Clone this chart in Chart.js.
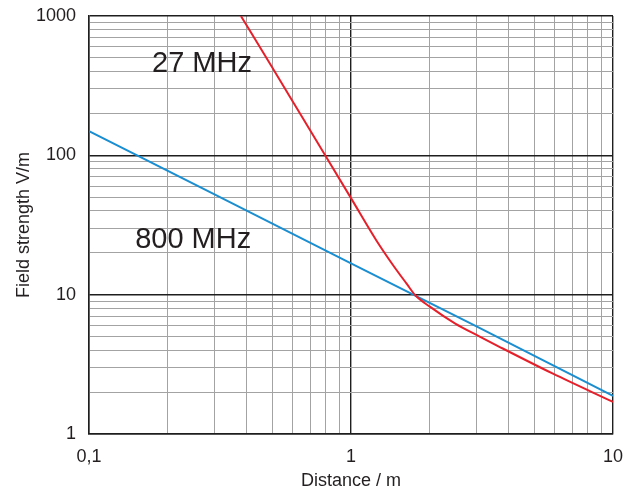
<!DOCTYPE html>
<html lang="en">
<head>
<meta charset="UTF-8">
<title>Field strength vs distance</title>
<script src="https://cdn.jsdelivr.net/npm/chart.js"></script>
<style>
  body { margin: 0; background: #ffffff; }
  canvas { display: block; }
</style>
</head>
<body>
<canvas id="fieldChart" width="627" height="492"></canvas>
<script>
// 27 MHz curve (distance in m, field in V/m)
const distance27 = [0.38, 0.5, 0.65, 0.8, 1, 1.25, 1.45, 1.63, 1.76, 2.0, 2.5, 3.1, 3.7, 5.9, 10];
const field27    = [1000, 428, 189, 99, 49.3, 24.5, 16.2, 12.0, 9.9, 8.2, 6.2, 5.0, 4.21, 2.71, 1.70];

// 800 MHz curve (straight line on log-log)
const distance800 = [0.1, 0.3, 1, 3, 10];
const field800    = [149, 52.6, 16.8, 5.94, 1.88];

// decade ticks and their labels
const xMajorTicks  = [0.1, 1, 10];
const xMajorLabels = ['0,1', '1', '10'];
const yMajorTicks  = [1, 10, 100, 1000];
const yMajorLabels = ['1', '10', '100', '1000'];

const FONT = '"Liberation Sans", Arial, sans-serif';

function isDecade(v) {
    const l = Math.log10(v);
    return Math.abs(l - Math.round(l)) < 1e-9;
}

// decades plus 2..9 subdivisions for the grid
function logTicks(majors) {
    const out = [];
    majors.forEach((m, i) => {
        out.push(m);
        if (i < majors.length - 1) {
            for (let k = 2; k <= 9; k++) out.push(+(m * k).toPrecision(6));
        }
    });
    return out;
}

function labelFor(majors, labels) {
    return (value) => {
        const i = majors.findIndex(m => Math.abs(m - value) < 1e-9);
        return i >= 0 ? labels[i] : '';
    };
}

// tick marks are invisible, they only push the labels away from the frame
function gridStyle(tickLen) {
    return {
        color: ctx => (ctx.tick && isDecade(ctx.tick.value)) ? '#1e1e1e' : '#a3a3a3',
        lineWidth: ctx => (ctx.tick && isDecade(ctx.tick.value)) ? 1.4 : 1,
        drawTicks: true,
        tickLength: tickLen,
        tickColor: 'rgba(0,0,0,0)'
    };
}

// "27 MHz" / "800 MHz" captions
const curveLabels = {
    id: 'curveLabels',
    afterDatasetsDraw(chart) {
        const { ctx, scales: { x, y } } = chart;
        ctx.save();
        ctx.font = '29px ' + FONT;
        ctx.fillStyle = '#231f20';
        ctx.textAlign = 'left';
        ctx.textBaseline = 'alphabetic';
        ctx.fillText('27 MHz', x.getPixelForValue(0.174), y.getPixelForValue(398));
        ctx.fillText('800 MHz', x.getPixelForValue(0.15), y.getPixelForValue(21.8));
        ctx.restore();
    }
};

Chart.defaults.font.family = FONT;
Chart.defaults.color = '#231f20';

new Chart(document.getElementById('fieldChart'), {
    type: 'line',
    data: {
        datasets: [
            {
                label: '27 MHz',
                data: distance27.map((d, i) => ({ x: d, y: field27[i] })),
                borderColor: '#e6202a',
                borderWidth: 2,
                pointRadius: 0,
                cubicInterpolationMode: 'monotone',
                fill: false
            },
            {
                label: '800 MHz',
                data: distance800.map((d, i) => ({ x: d, y: field800[i] })),
                borderColor: '#1a8ed0',
                borderWidth: 2,
                pointRadius: 0,
                fill: false
            }
        ]
    },
    options: {
        responsive: false,
        animation: false,
        layout: { padding: { left: 0, right: 14, top: 16, bottom: 0 } },
        scales: {
            x: {
                type: 'logarithmic',
                min: 0.1,
                max: 10,
                afterBuildTicks: s => { s.ticks = logTicks(xMajorTicks).map(v => ({ value: v })); },
                afterFit: s => { s.height = 58; },
                ticks: {
                    autoSkip: false,
                    maxRotation: 0,
                    padding: 0,
                    font: { size: 18 },
                    callback: labelFor(xMajorTicks, xMajorLabels)
                },
                grid: gridStyle(12),
                border: { color: '#1e1e1e', width: 1.5 },
                title: {
                    display: true,
                    text: 'Distance / m',
                    font: { size: 18 },
                    padding: { top: 0, bottom: 0 }
                }
            },
            y: {
                type: 'logarithmic',
                min: 1,
                max: 1000,
                afterBuildTicks: s => { s.ticks = logTicks(yMajorTicks).map(v => ({ value: v })); },
                afterFit: s => { s.width = 89; },
                ticks: {
                    autoSkip: false,
                    padding: 0,
                    font: { size: 18 },
                    callback: labelFor(yMajorTicks, yMajorLabels)
                },
                grid: gridStyle(13),
                border: { color: '#1e1e1e', width: 1.5 },
                title: {
                    display: true,
                    text: 'Field strength V/m',
                    font: { size: 18 },
                    padding: { top: 13, bottom: 0 }
                }
            }
        },
        plugins: {
            legend: { display: false },
            tooltip: { enabled: false }
        }
    },
    plugins: [curveLabels]
});
</script>
</body>
</html>
